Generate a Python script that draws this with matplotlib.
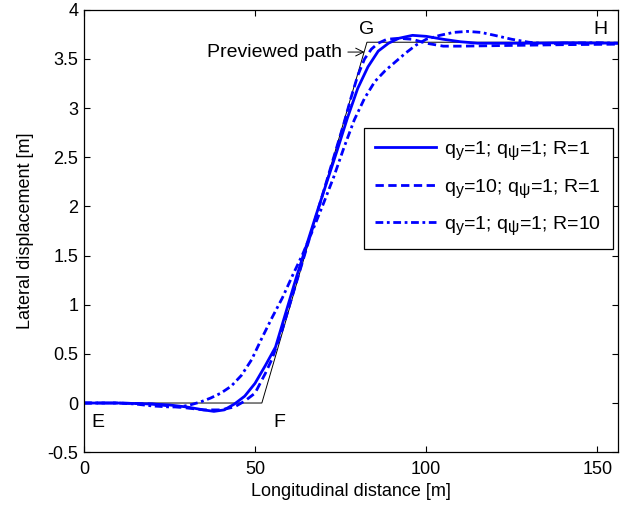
import matplotlib
matplotlib.use("Agg")
import matplotlib.pyplot as plt
try:
    import matplotlib._mathtext as _mt
    _mt.SHRINK_FACTOR = 0.82
except Exception:
    pass

plt.rcParams['font.family'] = ['Liberation Sans', 'DejaVu Sans']
plt.rcParams['mathtext.fontset'] = 'custom'
plt.rcParams['mathtext.rm'] = 'Liberation Sans'
plt.rcParams['mathtext.it'] = 'Liberation Sans:italic'

# Previewed path (E-F-G-H)
path_x = [0, 52, 82.7, 156]
path_y = [0, 0, 3.67, 3.67]

# q_y=1; q_psi=1; R=1
s1_x = [0, 10, 20, 25, 30, 35, 38, 41, 44, 47, 50, 53, 56, 59, 62, 65, 68, 71,
        74, 77, 80, 83, 86, 89, 92, 96, 100, 105, 110, 115, 120, 130, 140, 156]
s1_y = [0, 0, -0.01, -0.02, -0.04, -0.07, -0.085, -0.07, -0.01, 0.07, 0.2, 0.38,
        0.57, 0.92, 1.27, 1.6, 1.93, 2.25, 2.57, 2.9, 3.2, 3.42, 3.58, 3.66, 3.71,
        3.74, 3.73, 3.70, 3.675, 3.66, 3.66, 3.66, 3.665, 3.66]

# q_y=10; q_psi=1; R=1
s2_x = [0, 10, 20, 25, 30, 35, 40, 44, 47, 50, 53, 55, 58, 61, 64, 67, 70, 73,
        76, 78, 80, 82, 84, 86, 88.5, 92, 96, 100, 105, 110, 120, 130, 140, 156]
s2_y = [0, 0, -0.01, -0.03, -0.05, -0.07, -0.07, -0.04, 0.02, 0.1, 0.3, 0.45,
        0.75, 1.1, 1.45, 1.8, 2.15, 2.5, 2.85, 3.1, 3.33, 3.5, 3.6, 3.66, 3.7,
        3.71, 3.7, 3.66, 3.63, 3.63, 3.635, 3.64, 3.645, 3.65]

# q_y=1; q_psi=1; R=10
s3_x = [0, 10, 15, 20, 25, 28, 31, 34, 37, 40, 43, 46, 49, 52, 55, 58, 61, 64,
        67, 70, 73, 76, 79, 82, 85, 88, 91, 94, 97, 100, 104, 108, 112, 116, 120,
        125, 130, 135, 140, 150, 156]
s3_y = [0, 0, -0.01, -0.03, -0.04, -0.04, -0.02, 0.01, 0.05, 0.1, 0.17, 0.28,
        0.44, 0.66, 0.87, 1.07, 1.3, 1.52, 1.77, 2.03, 2.3, 2.6, 2.88, 3.1, 3.27,
        3.38, 3.47, 3.56, 3.64, 3.7, 3.74, 3.77, 3.78, 3.77, 3.74, 3.7, 3.67,
        3.655, 3.66, 3.665, 3.66]

labels = [r'q$_\mathregular{y}$=1; q$_\mathregular{ψ}$=1; R=1',
          r'q$_\mathregular{y}$=10; q$_\mathregular{ψ}$=1; R=1',
          r'q$_\mathregular{y}$=1; q$_\mathregular{ψ}$=1; R=10']

fs = 13
fig = plt.figure(figsize=(6.21, 5.15), dpi=100)
ax = fig.add_axes([0.135, 0.122, 0.86, 0.859])

blue = (0, 0, 1)
lw = 2.0
l1, = ax.plot(s1_x, s1_y, color=blue, lw=lw, ls='-', label=labels[0])
l2, = ax.plot(s2_x, s2_y, color=blue, lw=lw, ls=(0, (3.0, 1.6)), label=labels[1])
l3, = ax.plot(s3_x, s3_y, color=blue, lw=lw, ls=(0, (2.8, 1.3, 1.0, 1.3)), label=labels[2])
ax.plot(path_x, path_y, color='black', lw=0.7, zorder=1)

ax.set_xlim(0, 156)
ax.set_ylim(-0.5, 4)
ax.set_xticks([0, 50, 100, 150])
ax.set_yticks([-0.5, 0, 0.5, 1, 1.5, 2, 2.5, 3, 3.5, 4])
ax.set_yticklabels(['-0.5', '0', '0.5', '1', '1.5', '2', '2.5', '3', '3.5', '4'])
ax.tick_params(direction='in', top=True, right=True, length=4, width=0.8,
               labelsize=fs, pad=4)
ax.tick_params(axis='x', pad=6)
for sp in ax.spines.values():
    sp.set_linewidth(0.9)

ax.set_xlabel('Longitudinal distance [m]', fontsize=fs, labelpad=4)
ax.set_ylabel('Lateral displacement [m]', fontsize=fs, labelpad=10)

ax.text(82.7, 3.8, 'G', fontsize=14, ha='center', va='center')
ax.text(151, 3.8, 'H', fontsize=14, ha='center', va='center')
ax.text(4.1, -0.2, 'E', fontsize=14, ha='center', va='center')
ax.text(57, -0.2, 'F', fontsize=14, ha='center', va='center')
ax.annotate('Previewed path', xy=(82.0, 3.57), xytext=(75.5, 3.57),
            fontsize=14, ha='right', va='center',
            arrowprops=dict(arrowstyle='->', lw=0.7, color='black',
                            shrinkA=2, shrinkB=0))

leg = ax.legend(handles=[l1, l2, l3], loc='upper right',
                bbox_to_anchor=(0.991, 0.733), fontsize=14, handlelength=3.1,
                labelspacing=0.75, borderpad=0.6, handletextpad=0.45,
                borderaxespad=0.0,
                fancybox=False, framealpha=1, edgecolor='black')
leg.get_frame().set_linewidth(0.9)

fig.savefig('out.png', dpi=100)
